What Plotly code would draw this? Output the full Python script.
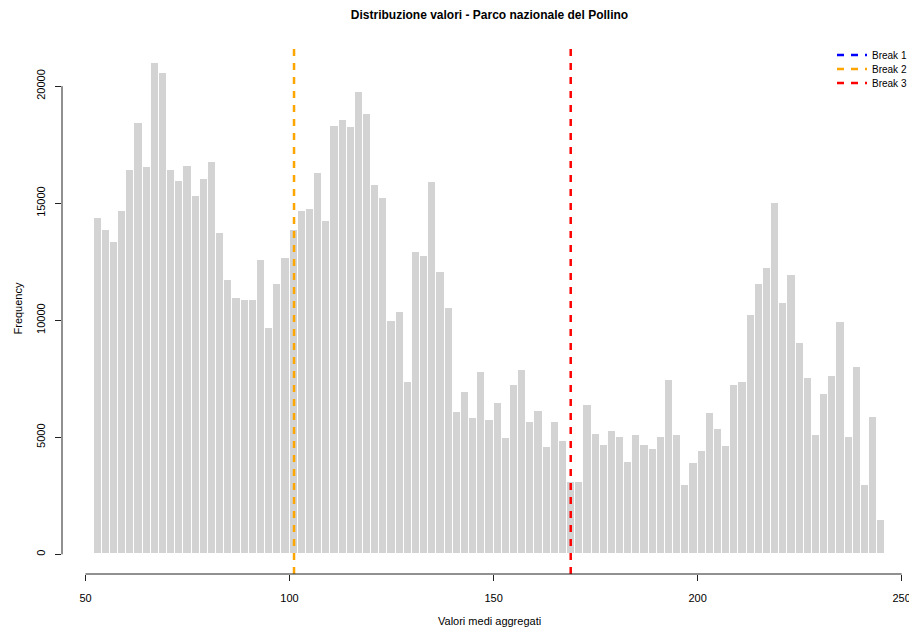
import plotly.graph_objects as go

# ---------------- data ----------------
bin_start = 52
bin_width = 2
counts = [
    14366, 13851, 13337, 14648, 16434, 18434, 16549, 21004, 20546, 16434,
    15963, 16592, 15290, 16035, 16777, 13736, 11735, 10939, 10879, 10879,
    12592, 9680, 11564, 12652, 13851, 14648, 14763, 16305, 14249, 18305,
    18546, 18262, 19762, 18832, 15791, 15235, 9954, 10339, 7367, 12935,
    12763, 15920, 12078, 10523, 6069, 6926, 5825, 7782, 5726, 6467,
    4968, 7255, 7881, 5654, 6112, 4570, 5654, 4857, 3071, 3071,
    6399, 5140, 4686, 5255, 5028, 3940, 5084, 4686, 4514, 5028,
    7427, 5084, 2972, 3885, 4399, 6056, 5371, 4626, 7255, 7367,
    10236, 11551, 12237, 14991, 10750, 11950, 9024, 7538, 5084, 6853,
    7598, 9937, 5028, 7996, 2972, 5885, 1473,
]
break_labels = ["Break 1", "Break 2", "Break 3"]
break_values = [None, 101.1, 168.9]
break_colors = ["#0000FF", "#FFA500", "#FF0000"]
x_ticks = [50, 100, 150, 200, 250]
y_ticks = [0, 5000, 10000, 15000, 20000]
title_text = "Distribuzione valori - Parco nazionale del Pollino"
x_title = "Valori medi aggregati"
y_title = "Frequency"

# ---------------- layout geometry ----------------
W, H = 909, 630
ML, MT, MB, MR = 62, 43, 56, 0
n = len(counts)
centers = [bin_start + bin_width * (i + 0.5) for i in range(n)]
x_lo_data = bin_start
x_hi_data = bin_start + bin_width * n
pad = 0.04 * (x_hi_data - x_lo_data)
x_lo = x_lo_data - pad
x_full_hi = x_hi_data + pad
full_right_px = 917  # R plot region extends past the cropped image edge
x_hi = x_lo + (x_full_hi - x_lo) * (W - ML) / (full_right_px - ML)
ymax = max(counts)
y_lo = -0.04 * ymax
y_hi = 1.04 * ymax

plot_w = W - ML - MR
plot_h = H - MT - MB
cx = ((ML + full_right_px) / 2 - ML) / plot_w

FONT = "Liberation Sans, Arial, Helvetica, sans-serif"
axis_col = "#222222"

fig = go.Figure()
fig.add_trace(go.Bar(
    x=centers, y=counts, width=bin_width,
    marker=dict(color="#D3D3D3", line=dict(color="white", width=1)),
    showlegend=False, hoverinfo="x+y",
))

legend_names = ["legend", "legend2", "legend3"]
legend_centers_px = [55, 69, 83]
legend_layout = {}
for k, (lab, val, col) in enumerate(zip(break_labels, break_values, break_colors)):
    fig.add_trace(go.Scatter(
        x=[val, val], y=[y_lo, y_hi], mode="lines", name=lab,
        line=dict(color=col, width=2.5, dash="7px,7px"),
        legend=legend_names[k],
    ))
    legend_layout[legend_names[k]] = dict(
        x=(832 - ML) / plot_w, xanchor="left",
        y=1 - (legend_centers_px[k] - MT) / plot_h, yanchor="middle",
        bgcolor="rgba(0,0,0,0)", borderwidth=0,
        font=dict(size=10, family=FONT, color="black"),
        itemwidth=30,
    )

fig.add_shape(type="line", xref="x", yref="paper",
              x0=x_ticks[0], x1=x_ticks[-1], y0=0, y1=0,
              line=dict(color=axis_col, width=1))
fig.add_shape(type="line", xref="paper", yref="y",
              x0=0, x1=0, y0=y_ticks[0], y1=y_ticks[-1],
              line=dict(color=axis_col, width=1))

fig.update_layout(
    width=W, height=H,
    margin=dict(l=ML, r=MR, t=MT, b=MB, pad=0, autoexpand=False),
    paper_bgcolor="white", plot_bgcolor="white",
    font=dict(family=FONT, size=11, color="black"),
    bargap=0,
    title=dict(text="<b>" + title_text + "</b>", x=cx, xref="paper",
               xanchor="center", y=1 - 15 / H, yref="container",
               yanchor="middle", automargin=False,
               font=dict(size=12, family=FONT, color="black")),
    xaxis=dict(range=[x_lo, x_hi], tickvals=x_ticks,
               ticktext=[str(v) for v in x_ticks], automargin=False,
               ticks="outside", ticklen=6, tickwidth=1, tickcolor=axis_col,
               showgrid=False, zeroline=False, showline=False,
               ticklabelstandoff=8, ticklabeloverflow="allow"),
    yaxis=dict(range=[y_lo, y_hi], tickvals=y_ticks,
               ticktext=[str(v) for v in y_ticks], tickangle=-90,
               automargin=False,
               ticks="outside", ticklen=6, tickwidth=1, tickcolor=axis_col,
               showgrid=False, zeroline=False, showline=False,
               ticklabelstandoff=6),
    annotations=[
        dict(text=x_title, xref="paper", yref="paper", x=cx,
             y=-(621 - (H - MB)) / plot_h, xanchor="center", yanchor="middle",
             showarrow=False, font=dict(size=11, family=FONT)),
        dict(text=y_title, xref="paper", yref="paper", x=-(ML - 17) / plot_w,
             y=0.5, xanchor="center", yanchor="middle", textangle=-90,
             showarrow=False, font=dict(size=11, family=FONT)),
    ],
    **legend_layout,
)

fig.write_html(
    "out.html",
    config={"displayModeBar": False},
    post_script="document.body.style.margin='0';document.body.style.overflow='hidden';",
)
